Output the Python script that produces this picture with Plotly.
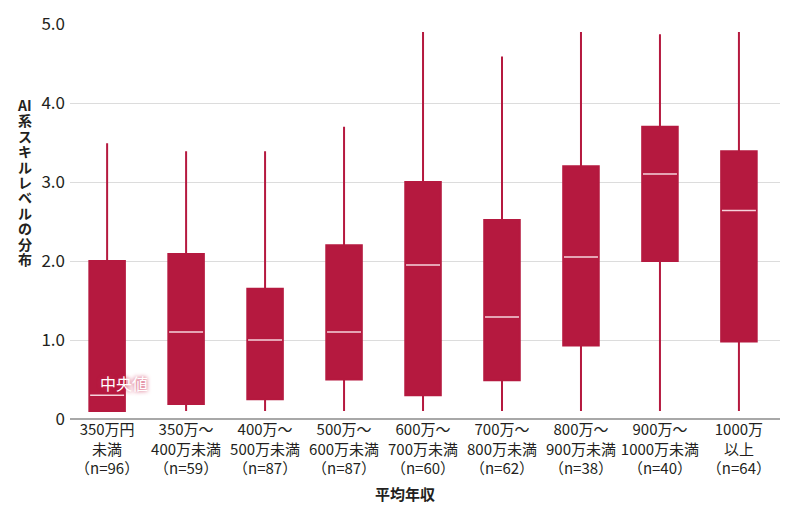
import plotly.graph_objects as go

categories = [
    "350万円<br>未満<br>（n=96）",
    "350万～<br>400万未満<br>（n=59）",
    "400万～<br>500万未満<br>（n=87）",
    "500万～<br>600万未満<br>（n=87）",
    "600万～<br>700万未満<br>（n=60）",
    "700万～<br>800万未満<br>（n=62）",
    "800万～<br>900万未満<br>（n=38）",
    "900万～<br>1000万未満<br>（n=40）",
    "1000万<br>以上<br>（n=64）",
]
lower = [0.1, 0.1, 0.1, 0.1, 0.1, 0.1, 0.1, 0.1, 0.1]
q1 = [0.1, 0.19, 0.25, 0.5, 0.3, 0.49, 0.93, 2.0, 0.98]
median = [0.3, 1.1, 1.0, 1.1, 1.95, 1.29, 2.05, 3.1, 2.64]
q3 = [2.0, 2.09, 1.65, 2.2, 3.0, 2.52, 3.2, 3.7, 3.39]
upper = [3.49, 3.39, 3.39, 3.7, 4.9, 4.59, 4.9, 4.87, 4.9]
y_ticks = [0, 1, 2, 3, 4, 5]
y_ticktext = ["0", "1.0", "2.0", "3.0", "4.0", "5.0"]
y_title_chars = ["AI", "系", "ス", "キ", "ル", "レ", "ベ", "ル", "の", "分", "布"]
x_title = "平均年収"
median_label = "中央値"

CRIMSON = "#b5193f"
BOX_W = 0.45
FONT = "Noto Sans CJK JP"
pos = list(range(len(categories)))

W, H = 784, 497
L, R, T, B = 62, 12, 16, 86
plot_h = H - T - B

fig = go.Figure()
fig.add_trace(go.Box(
    x=pos, q1=q1, median=median, q3=q3,
    lowerfence=lower, upperfence=upper,
    width=BOX_W, fillcolor=CRIMSON,
    line=dict(color=CRIMSON, width=2),
    whiskerwidth=0, showlegend=False, hoverinfo="skip",
))

mx, my = [], []
for i, m in zip(pos, median):
    mx += [i - BOX_W / 2 + 0.01, i + BOX_W / 2 - 0.01, None]
    my += [m, m, None]
fig.add_trace(go.Scatter(
    x=mx, y=my, mode="lines",
    line=dict(color="#f6d3dc", width=1.5),
    showlegend=False, hoverinfo="skip",
))

annotations = []
pitch = 15.4 / plot_h
top_center = (411 - 97) / plot_h  # first line centre, paper units
for k, ch in enumerate(y_title_chars):
    annotations.append(dict(
        text=ch, xref="paper", yref="paper",
        x=-0.0634, y=top_center - k * pitch,
        xanchor="center", yanchor="middle", showarrow=False,
        font=dict(size=14, family=FONT, color="#231f20", weight="bold"),
    ))
annotations.append(dict(
    text=x_title, xref="paper", yref="paper", x=0.472, y=-(493 - 419) / plot_h,
    xanchor="center", yanchor="middle", showarrow=False,
    font=dict(size=15, family=FONT, color="#231f20", weight="bold"),
))
annotations.append(dict(
    text=median_label, xref="x", yref="y", x=-0.12, y=0.45,
    xanchor="left", yanchor="middle", showarrow=False,
    font=dict(size=16, family=FONT, color="#ffffff",
              shadow="0px 0px 4px #c8244c"),
))

fig.update_layout(
    width=W, height=H,
    margin=dict(l=L, r=R, t=T, b=B, autoexpand=False),
    paper_bgcolor="white", plot_bgcolor="white",
    font=dict(family=FONT, color="#231f20"),
    xaxis=dict(
        range=[-0.47, 8.52], tickvals=pos, ticktext=categories,
        showgrid=False, zeroline=False, showline=False,
        tickfont=dict(size=15, color="#231f20"), ticks="",
    ),
    yaxis=dict(
        range=[0, 5.0], tickvals=y_ticks, ticktext=y_ticktext,
        showgrid=True, gridcolor="#dcdcdc", gridwidth=1,
        zeroline=True, zerolinecolor="#a8a8a8", zerolinewidth=1.5,
        tickfont=dict(size=17, color="#231f20"), ticks="",
        ticklabelstandoff=4,
    ),
    annotations=annotations,
)

fig.write_html("out.html")
